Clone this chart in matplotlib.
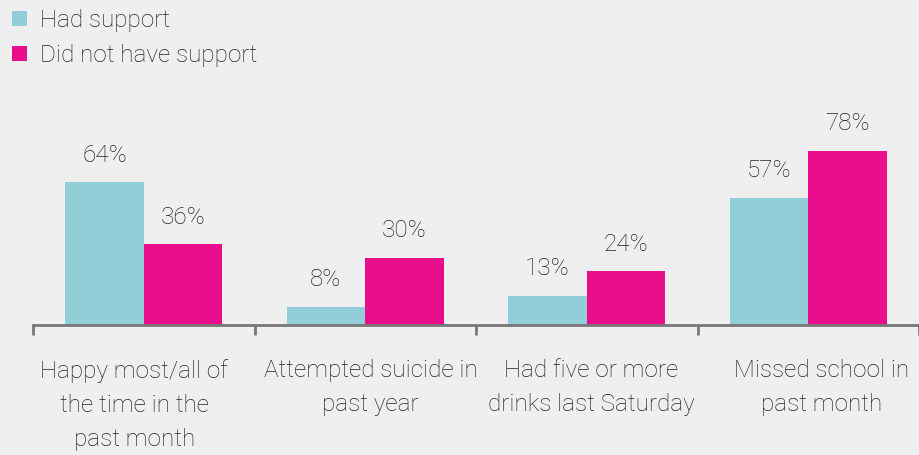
import matplotlib
matplotlib.use("Agg")
import matplotlib.pyplot as plt
from matplotlib.patches import Patch
import matplotlib.transforms as mtransforms
import numpy as np

categories = ["Happy most/all of\nthe time in the\npast month",
              "Attempted suicide in\npast year",
              "Had five or more\ndrinks last Saturday",
              "Missed school in\npast month"]
had_support = [64, 8, 13, 57]
no_support = [36, 30, 24, 78]
series_names = ["Had support", "Did not have support"]

teal = "#92CED8"
pink = "#E90E8B"
bg = "#EFEFEF"
txt = "#222222"

plt.rcParams['font.family'] = ['Roboto', 'DejaVu Sans']

W, H = 919, 455
fig = plt.figure(figsize=(W/100, H/100), dpi=100, facecolor=bg)
ymax = 80
px_per = 2.228
ax_h = ymax*px_per
ax = fig.add_axes([33/W, (H-324.5)/H, 1-33/W, ax_h/H])
ax.set_facecolor(bg)

fs = 17.5
x = np.arange(len(categories))
bw = 0.355
b1 = ax.bar(x - bw/2, had_support, bw, color=teal, label=series_names[0])
b2 = ax.bar(x + bw/2, no_support, bw, color=pink, label=series_names[1])

for bars, vals in ((b1, had_support), (b2, no_support)):
    for r, v in zip(bars, vals):
        ax.annotate(f"{v}%", (r.get_x() + r.get_width()/2, v),
                    xytext=(0, 11), textcoords="offset points",
                    ha="center", va="bottom", fontsize=fs,
                    fontweight="light", color=txt, annotation_clip=False)

ax.set_xlim(-0.5, 3.5)
ax.set_ylim(0, ymax)
for s in ["top", "right", "left"]:
    ax.spines[s].set_visible(False)
ax.spines["bottom"].set_color("#777777")
ax.spines["bottom"].set_linewidth(2)
ax.set_yticks([])
ax.set_xticks(x)
ax.set_xticklabels(categories, fontsize=fs, fontweight="light",
                   color=txt, linespacing=1.62)
ax.tick_params(axis="x", which="major", length=0, pad=25)
ax.set_xticks(np.arange(-0.5, 4.0, 1.0), minor=True)
ax.tick_params(axis="x", which="minor", length=7, width=2, color="#777777")

# horizontal nudges of the category labels as in the reference (pixels)
label_shift_px = [-9.5, 5.5, 4.5, 13.5]
for lab, dx in zip(ax.get_xticklabels(), label_shift_px):
    lab.set_transform(lab.get_transform() +
                      mtransforms.ScaledTranslation(dx/100, 0, fig.dpi_scale_trans))

handles = [Patch(facecolor=teal, edgecolor="none"), Patch(facecolor=pink, edgecolor="none")]
leg = fig.legend(handles, series_names, loc="upper left",
                 bbox_to_anchor=(12/W, 1 - 9/H), frameon=False,
                 fontsize=fs, handlelength=0.62, handleheight=0.62,
                 handletextpad=0.55, labelspacing=0.5,
                 borderaxespad=0.0, borderpad=0.0)
for t in leg.get_texts():
    t.set_color(txt)
    t.set_fontweight("light")

fig.savefig("out.png", dpi=100, facecolor=bg)
